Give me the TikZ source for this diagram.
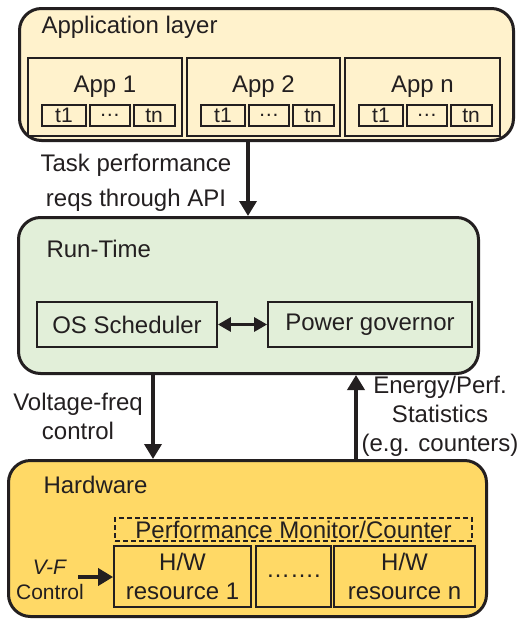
\documentclass[tikz,border=0pt]{standalone}
\usepackage{fontspec}
\setmainfont{Liberation Sans}
\usetikzlibrary{arrows.meta,positioning}
\definecolor{ink}{RGB}{35,31,32}
\definecolor{appfill}{HTML}{FFF2CC}
\definecolor{rtfill}{HTML}{E2EFD9}
\definecolor{hwfill}{HTML}{FFD966}

\begin{document}
\begin{tikzpicture}[x=1pt,y=-1pt,
    every node/.style={font=\fontsize{24}{29}\selectfont,text=ink},
    layer/.style={draw=ink,line width=3pt,rounded corners=22pt,inner sep=0pt},
    box/.style={draw=ink,line width=1.8pt,inner sep=0pt,align=center},
    task/.style={box,minimum height=21pt,font=\fontsize{21}{25}\selectfont},
    flow/.style={draw=ink,line width=3.6pt,-{Triangle[length=15pt,width=17pt]}}]
    \useasboundingbox (0,0) rectangle (521,621);

    \node[layer,fill=appfill,minimum width=494pt,minimum height=132pt] (applayer) at (266.5,74.5) {};
    \node[anchor=base west] (applayer-name) at (38,33) {Application layer};
    \foreach \n/\x/\w in {1/105/154, 2/263.5/153, n/422.5/155} {
        \node[box,minimum width=\w pt,minimum height=78pt] (app\n) at (\x,97) {};
        \node[anchor=base] (app\n-name) at (\x,92) {App \n};
        \node[task,minimum width=44pt,anchor=south west] (app\n-t1) at ([shift={(14pt,10pt)}]app\n.south west) {t1};
        \node[task,minimum width=40pt,right=2pt of app\n-t1] (app\n-dots) {\dots};
        \node[task,minimum width=41pt,right=2pt of app\n-dots] (app\n-tn) {tn};
    }

    \node[layer,fill=rtfill,minimum width=460pt,minimum height=156pt] (runtime) at (248.5,295.5) {};
    \node[anchor=base west] (runtime-name) at (43,257) {Run-Time};
    \node[box,minimum width=180pt,minimum height=45pt] (sched) at (127,324.5) {OS Scheduler};
    \node[box,minimum width=204pt,minimum height=45pt] (gov) at (370,324.5) {Power governor};
    \draw[flow,line width=3pt,{Triangle[length=13pt,width=14pt]}-{Triangle[length=13pt,width=14pt]}] (sched) -- (gov);

    \node[layer,fill=hwfill,minimum width=478pt,minimum height=156pt] (hardware) at (247.5,538.5) {};
    \node[anchor=base west] (hardware-name) at (40,493) {Hardware};
    \node[box,dashed,dash pattern=on 5pt off 3pt,minimum width=357pt,minimum height=23pt] (monitor) at (293.5,529.5) {Performance Monitor/Counter};
    \node[box,minimum width=137pt,minimum height=61pt] (hw1) at (182.5,576.5) {H/W\\resource 1};
    \node[box,minimum width=75pt,minimum height=61pt] (hwdots) at (293.5,576.5) {…….};
    \node[box,minimum width=141pt,minimum height=61pt] (hwn) at (404.5,576.5) {H/W\\resource n};
    \node[align=center,font=\fontsize{21}{25}\selectfont] (vf) at (50,580) {\textit{V-F}\\Control};
    \coordinate (vfin) at (78,577);
    \draw[flow] (vfin) -- (vfin -| hw1.west);

    \coordinate (reqs) at (248,0);
    \coordinate (vfreq) at (153,0);
    \coordinate (stats) at (356,0);
    \draw[flow] (reqs |- applayer.south) -- (reqs |- runtime.north);
    \draw[flow] (vfreq |- runtime.south) -- (vfreq |- hardware.north);
    \draw[flow] (stats |- hardware.north) -- (stats |- runtime.south);
    \node[align=center] (reqs-label) at (136,183) {Task performance\\[6pt]reqs through API};
    \node[align=center] (vfreq-label) at (78,416) {Voltage-freq\\control};
    \node[align=center] (stats-label) at (440,416) {Energy/Perf.\\Statistics\\(e.g. counters)};
\end{tikzpicture}
\end{document}
